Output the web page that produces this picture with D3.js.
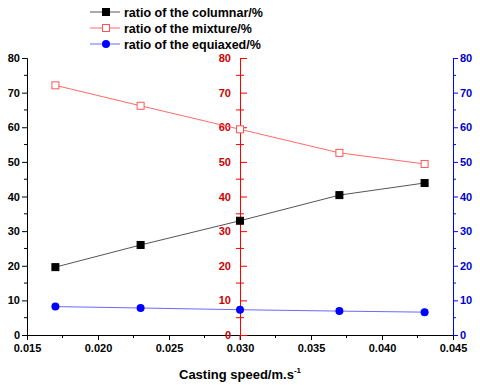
<!DOCTYPE html>
<html>
<head>
<meta charset="utf-8">
<script src="https://cdnjs.cloudflare.com/ajax/libs/d3/7.8.5/d3.min.js"></script>
<style>
	body { margin: 0; background: #fff; }
	svg text { font-family: "Liberation Sans", Arial, sans-serif; font-weight: bold; }
</style>
</head>
<body>
<svg id="chart" width="480" height="385"></svg>
<script>
	var speeds = [0.017, 0.023, 0.030, 0.037, 0.043]
	var columnar = [19.6, 26.0, 33.0, 40.4, 43.9]
	var mixture = [72.1, 66.2, 59.4, 52.6, 49.4]
	var equiaxed = [8.2, 7.8, 7.3, 6.9, 6.6]
	var xTicks = [0.015, 0.020, 0.025, 0.030, 0.035, 0.040, 0.045]
	var yTicks = [0, 10, 20, 30, 40, 50, 60, 70, 80]

	var svg = d3.select("#chart"),
		margin = { top: 58, right: 27, bottom: 50, left: 27 },
		width = 480 - margin.left - margin.right,
		height = 385 - margin.top - margin.bottom;

	var x = d3.scaleLinear().domain([0.015, 0.045]).range([0, width]);
	var y = d3.scaleLinear().domain([0, 80]).range([height, 0]);

	var g = svg.append("g")
		.attr("transform", "translate(" + margin.left + "," + margin.top + ")");

	var minorY = d3.range(5, 80, 10)
	var minorX = d3.range(0.0175, 0.045, 0.005)

	// x axis
	var xg = g.append("g")
		.attr("transform", "translate(0," + height + ")")
		.call(d3.axisBottom(x).tickValues(xTicks).tickFormat(d3.format(".3f")).tickSize(5).tickPadding(4))
	xg.selectAll(".minor").data(minorX).enter().append("line")
		.attr("class", "minor")
		.attr("x1", function (d) { return x(d) }).attr("x2", function (d) { return x(d) })
		.attr("y1", 0).attr("y2", 3).attr("stroke", "#000")

	// left axis
	var yl = g.append("g")
		.call(d3.axisLeft(y).tickValues(yTicks).tickSize(5).tickPadding(2))
	yl.selectAll(".minor").data(minorY).enter().append("line")
		.attr("class", "minor")
		.attr("x1", -3).attr("x2", 0)
		.attr("y1", function (d) { return y(d) }).attr("y2", function (d) { return y(d) })
		.attr("stroke", "#000")

	// middle red axis, ticks cross the line
	var ym = g.append("g")
		.attr("transform", "translate(" + x(0.030) + ",0)")
		.call(d3.axisLeft(y).tickValues(yTicks).tickSize(7).tickSizeOuter(0).tickPadding(2))
	ym.selectAll(".tick line").attr("x2", 7)
	ym.selectAll(".minor").data(minorY).enter().append("line")
		.attr("class", "minor")
		.attr("x1", -4).attr("x2", 4)
		.attr("y1", function (d) { return y(d) }).attr("y2", function (d) { return y(d) })
	ym.selectAll("line, path").attr("stroke", "#ff0000")
	ym.selectAll("text").attr("fill", "#cc0000")
	ym.append("line").attr("x1", 0).attr("x2", 0).attr("y1", height).attr("y2", height + 5).attr("stroke", "#ff0000")

	// right blue axis
	var yr = g.append("g")
		.attr("transform", "translate(" + width + ",0)")
		.call(d3.axisRight(y).tickValues(yTicks).tickSize(5).tickPadding(2))
	yr.selectAll(".minor").data(minorY).enter().append("line")
		.attr("class", "minor")
		.attr("x1", 0).attr("x2", 3)
		.attr("y1", function (d) { return y(d) }).attr("y2", function (d) { return y(d) })
	yr.selectAll("line, path").attr("stroke", "#0000ff")
	yr.selectAll("text").attr("fill", "#0000cc")

	g.selectAll(".tick text").style("font-size", "11px")

	var series = [
		{ name: "ratio of the columnar/%", values: columnar, line: "#555555", mark: "square", fill: "#000", stroke: "#000" },
		{ name: "ratio of the mixture/%", values: mixture, line: "#ff6a6a", mark: "square", fill: "#fff", stroke: "#ff5555" },
		{ name: "ratio of the equiaxed/%", values: equiaxed, line: "#6a6aff", mark: "circle", fill: "#0000ff", stroke: "#0000ff" }
	]

	var line = d3.line()
		.x(function (d) { return x(d[0]) })
		.y(function (d) { return y(d[1]) })

	function drawMark(sel, s, cx, cy) {
		if (s.mark == "square") {
			sel.append("rect")
				.attr("x", cx - 3.5).attr("y", cy - 3.5)
				.attr("width", 7).attr("height", 7)
				.attr("fill", s.fill).attr("stroke", s.stroke).attr("stroke-width", 1)
		} else {
			sel.append("circle")
				.attr("cx", cx).attr("cy", cy).attr("r", 4)
				.attr("fill", s.fill)
		}
	}

	series.forEach(function (s) {
		var pts = speeds.map(function (d, i) { return [d, s.values[i]] })
		g.append("path")
			.datum(pts)
			.attr("d", line)
			.attr("fill", "none")
			.attr("stroke", s.line)
			.attr("stroke-width", 1)
		pts.forEach(function (p) {
			drawMark(g, s, x(p[0]), y(p[1]))
		})
	})

	// legend
	var legend = svg.append("g")
	series.forEach(function (s, i) {
		var ly = 12 + i * 16
		legend.append("line")
			.attr("x1", 90).attr("x2", 120).attr("y1", ly).attr("y2", ly)
			.attr("stroke", s.line)
		drawMark(legend, s, 106, ly)
		legend.append("text")
			.attr("x", 124).attr("y", ly + 4.5)
			.style("font-size", "12.5px")
			.text(s.name)
	})

	// x title
	var title = svg.append("text")
		.attr("x", margin.left + width / 2)
		.attr("y", 379)
		.attr("text-anchor", "middle")
		.style("font-size", "13px")
	title.append("tspan").text("Casting speed/m.s")
	title.append("tspan").attr("dy", -6).style("font-size", "8px").text("-1")
</script>
</body>
</html>
